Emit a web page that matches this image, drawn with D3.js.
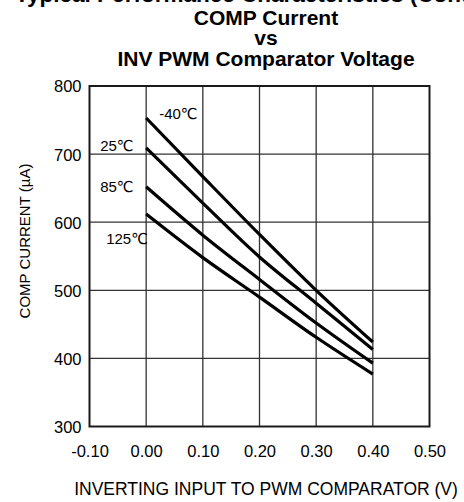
<!DOCTYPE html>
<html><head><meta charset="utf-8">
<script src="https://cdn.jsdelivr.net/npm/d3@7"></script>
<style>body{margin:0;background:#fff}svg{display:block}text{font-family:"Liberation Sans",Arial,"DejaVu Sans",sans-serif;fill:#000}</style>
</head><body>
<svg id="c" width="464" height="502"></svg>
<script>
const voltages = [0.00, 0.10, 0.20, 0.30, 0.40];
const seriesNames = ["-40℃", "25℃", "85℃", "125℃"];
const currentM40 = [753, 667, 582, 500, 424];
const current25 = [709, 628, 549, 481, 413];
const current85 = [652, 581, 516, 452, 393];
const current125 = [612, 548, 490, 431, 377];
const xTicks = [-0.10, 0.00, 0.10, 0.20, 0.30, 0.40, 0.50];
const yTicks = [300, 400, 500, 600, 700, 800];
const titleLines = ["COMP Current", "vs", "INV PWM Comparator Voltage"];

const series = [currentM40, current25, current85, current125].map((v, i) => ({
  name: seriesNames[i], values: v.map((c, j) => ({x: voltages[j], y: c}))
}));

const svg = d3.select("#c");
const L = 89.5, R = 429.5, T = 86, B = 426.5;
const x = d3.scaleLinear().domain([-0.1, 0.5]).range([L, R]);
const y = d3.scaleLinear().domain([300, 800]).range([B, T]);

// partially cut-off header (as in the reference)
svg.append("text").attr("x", 15).attr("y", 1.5).attr("font-size", 22.5).attr("font-weight", "bold")
  .text("Typical Performance Characteristics (Continued)");

// title
const tY = [25, 45, 66];
titleLines.forEach((t, i) => svg.append("text").attr("x", 266).attr("y", tY[i])
  .attr("text-anchor", "middle").attr("font-size", 21).attr("font-weight", "bold").text(t));

// grid
const g = svg.append("g");
g.selectAll("line.v").data(xTicks.slice(1, -1)).join("line")
  .attr("x1", d => x(d)).attr("x2", d => x(d)).attr("y1", T).attr("y2", B)
  .attr("stroke", "#333").attr("stroke-width", 1.3);
g.selectAll("line.h").data(yTicks.slice(1, -1)).join("line")
  .attr("y1", d => y(d)).attr("y2", d => y(d)).attr("x1", L).attr("x2", R)
  .attr("stroke", "#333").attr("stroke-width", 1.3);

// axes
const fmt = d => d3.format(".2f")(d).replace("−", "-");
const xAxis = d3.axisBottom(x).tickValues(xTicks).tickFormat(fmt).tickSize(0).tickPadding(0);
const ax = svg.append("g").attr("transform", `translate(0,${B})`).call(xAxis);
ax.select(".domain").remove();
ax.selectAll("text").attr("y", 30).attr("dy", null).attr("font-size", 16.5)
  .attr("font-family", '"Liberation Sans",Arial,sans-serif').attr("fill", "#000");

const yAxis = d3.axisLeft(y).tickValues(yTicks).tickSize(0).tickPadding(0);
const ay = svg.append("g").attr("transform", `translate(${L - 8},0)`).call(yAxis);
ay.select(".domain").remove();
ay.selectAll("text").attr("font-size", 16.5).attr("dy", "0.36em")
  .attr("font-family", '"Liberation Sans",Arial,sans-serif').attr("fill", "#000");

// frame
svg.append("rect").attr("x", L).attr("y", T).attr("width", R - L).attr("height", B - T)
  .attr("fill", "none").attr("stroke", "#1a1a1a").attr("stroke-width", 2);

// curves
const line = d3.line().x(d => x(d.x)).y(d => y(d.y)).curve(d3.curveMonotoneX);
svg.append("g").selectAll("path").data(series).join("path")
  .attr("d", d => line(d.values)).attr("fill", "none")
  .attr("stroke", "#000").attr("stroke-width", 3.2);

// curve labels (offset from each curve's first point)
const offs = [[13, 1], [-46, 3], [-46, 5], [-40, 30]];
svg.append("g").selectAll("text").data(series).join("text")
  .attr("x", (d, i) => x(d.values[0].x) + offs[i][0])
  .attr("y", (d, i) => y(d.values[0].y) + offs[i][1])
  .attr("font-size", 15).text(d => d.name);

// axis titles
svg.append("text").attr("transform", "translate(30,241) rotate(-90)").attr("text-anchor", "middle")
  .attr("font-size", 15).text("COMP CURRENT (µA)");
svg.append("text").attr("x", 266).attr("y", 495).attr("text-anchor", "middle")
  .attr("font-size", 17.5).text("INVERTING INPUT TO PWM COMPARATOR (V)");
</script>
</body></html>
